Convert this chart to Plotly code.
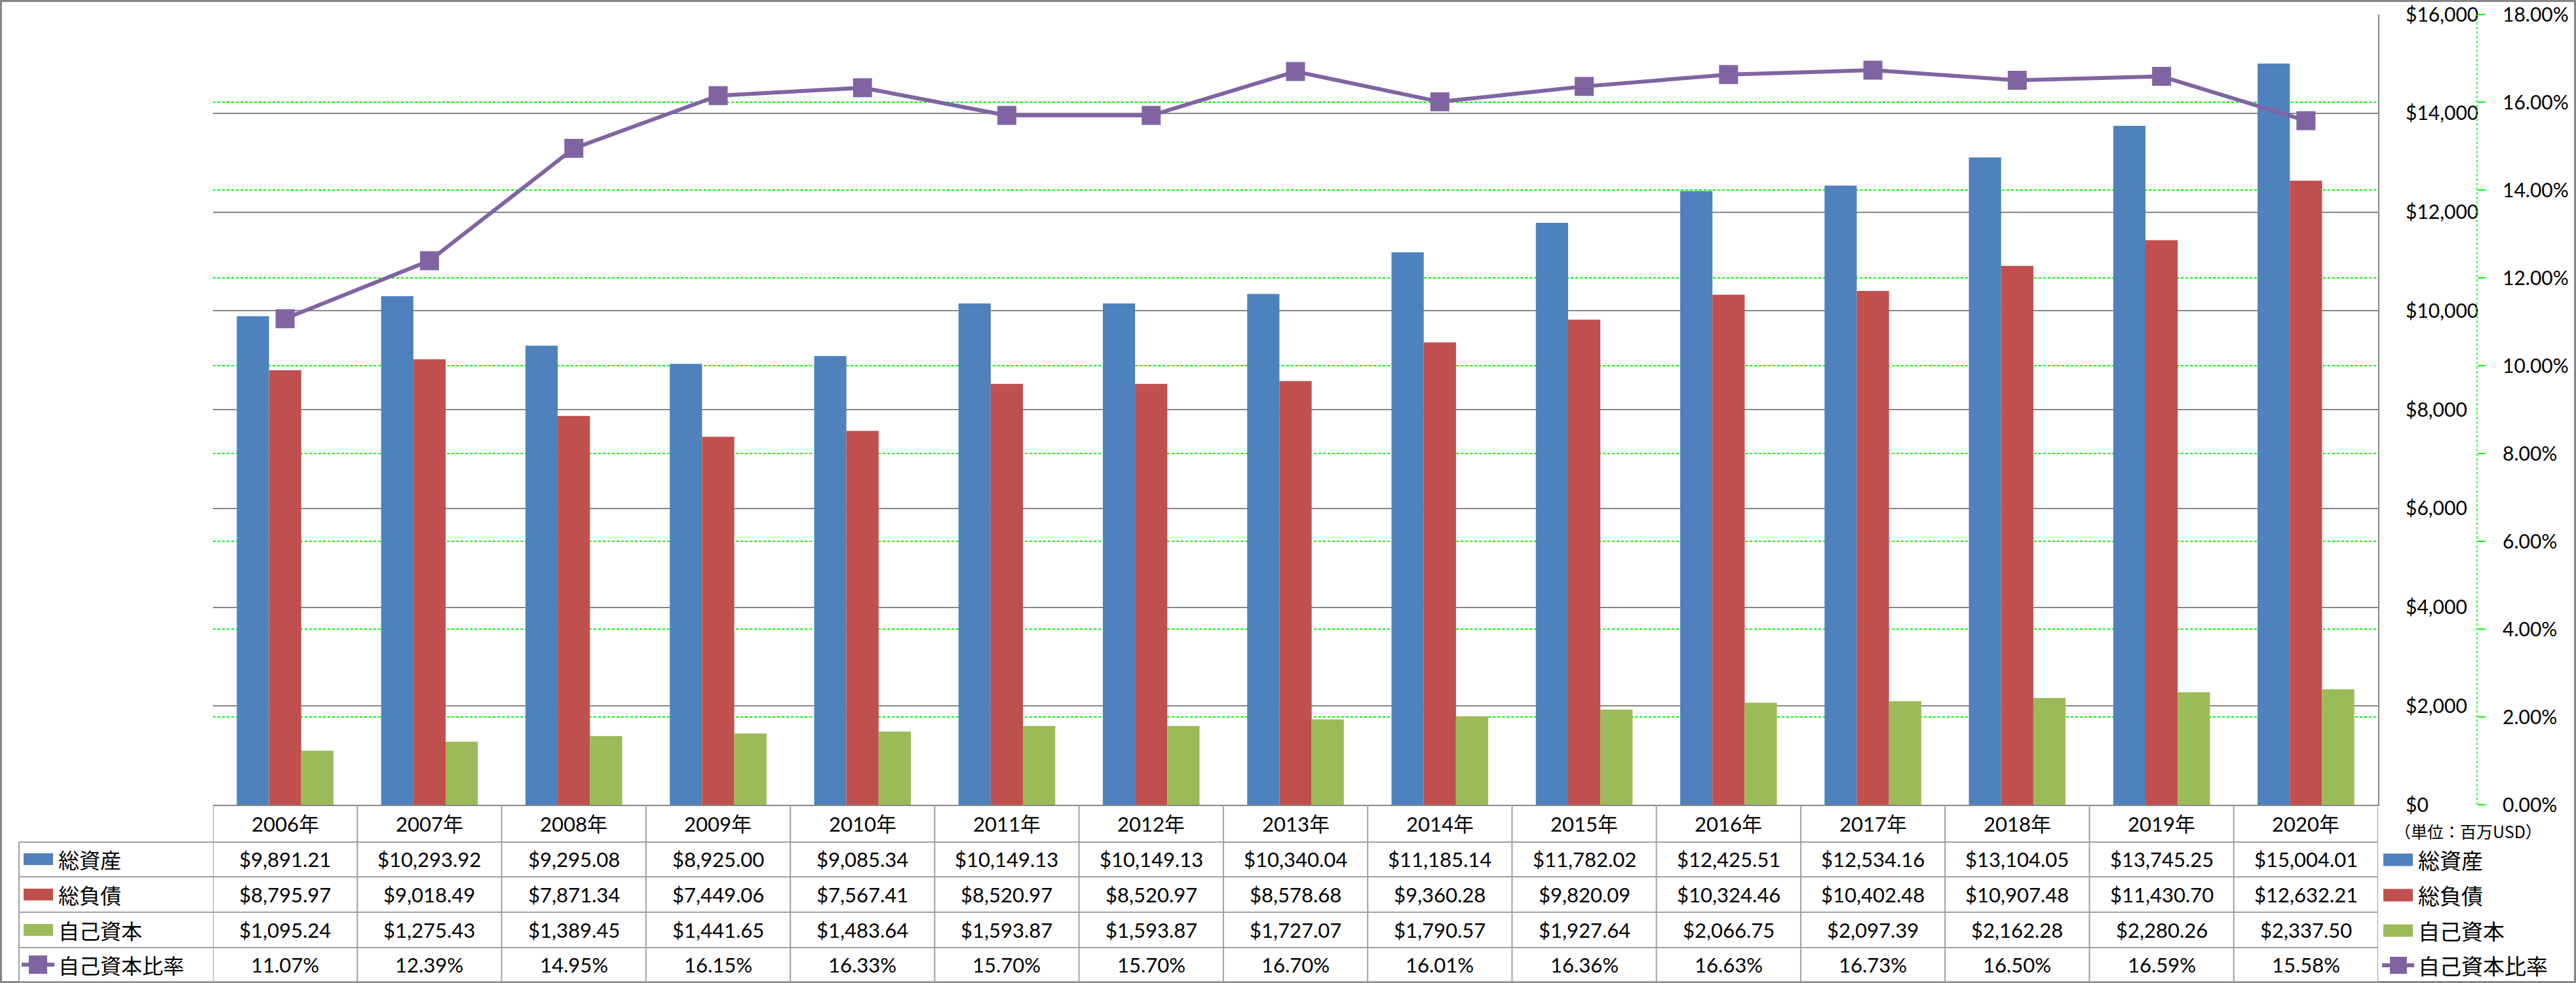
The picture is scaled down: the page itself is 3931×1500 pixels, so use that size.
import plotly.graph_objects as go

# ---------------- data ----------------
years = ["2006年", "2007年", "2008年", "2009年", "2010年", "2011年", "2012年", "2013年",
         "2014年", "2015年", "2016年", "2017年", "2018年", "2019年", "2020年"]
total_assets = [9891.21, 10293.92, 9295.08, 8925.00, 9085.34, 10149.13, 10149.13, 10340.04,
                11185.14, 11782.02, 12425.51, 12534.16, 13104.05, 13745.25, 15004.01]
total_liabilities = [8795.97, 9018.49, 7871.34, 7449.06, 7567.41, 8520.97, 8520.97, 8578.68,
                     9360.28, 9820.09, 10324.46, 10402.48, 10907.48, 11430.70, 12632.21]
equity = [1095.24, 1275.43, 1389.45, 1441.65, 1483.64, 1593.87, 1593.87, 1727.07,
          1790.57, 1927.64, 2066.75, 2097.39, 2162.28, 2280.26, 2337.50]
equity_ratio = [11.07, 12.39, 14.95, 16.15, 16.33, 15.70, 15.70, 16.70,
                16.01, 16.36, 16.63, 16.73, 16.50, 16.59, 15.58]
series_names = ["総資産", "総負債", "自己資本", "自己資本比率"]
y_ticks = list(range(0, 16001, 2000))
y2_ticks = list(range(0, 19, 2))
y2_ticktext = [f"{v:.2f}%" for v in y2_ticks]
unit_label = "（単位：百万USD）"

# ---------------- styles ----------------
W, H = 3931, 1500
PLOT_L, PLOT_R, PLOT_T, PLOT_B = 325, 3629, 22, 1228
C_BLUE, C_RED, C_GREEN, C_PURPLE = "#4F81BD", "#C0504D", "#9BBB59", "#8064A2"
GRAY = "#868686"
TGRAY = "#A0A0A0"
NUM_FONT = "Lato, 'Noto Sans CJK JP', sans-serif"
JP_FONT = "'Noto Sans CJK JP', sans-serif"


def px(p):
    return p / W


def py(p):
    return (PLOT_B - p) / (PLOT_B - PLOT_T)


fig = go.Figure()
for name, vals, col in zip(series_names[:3], [total_assets, total_liabilities, equity],
                           [C_BLUE, C_RED, C_GREEN]):
    fig.add_trace(go.Bar(x=years, y=vals, name=name, marker=dict(color=col, line=dict(width=0)),
                         showlegend=False))
fig.add_trace(go.Scatter(x=years, y=equity_ratio, name=series_names[3], yaxis="y2",
                         mode="lines+markers", line=dict(color=C_PURPLE, width=6),
                         marker=dict(symbol="square", size=29, color=C_PURPLE), showlegend=False))

shapes = []
annotations = []

# outer border
shapes.append(dict(type="rect", xref="paper", yref="paper", x0=px(1.5), x1=px(3929.5),
                   y0=py(1498.5), y1=py(1.5), line=dict(color=GRAY, width=3)))

# secondary axis dashed line
shapes.append(dict(type="line", xref="paper", yref="paper", x0=px(3780), x1=px(3780),
                   y0=0, y1=1, line=dict(color="#00FF00", width=1.5, dash="4px,3px")))

# table geometry
row_lines = [1285, 1338, 1392, 1446, 1498]
row_centers = [1311, 1365, 1419, 1472]
header_center = 1257

for yl in row_lines:
    shapes.append(dict(type="line", xref="paper", yref="paper", x0=px(29), x1=px(PLOT_R),
                       y0=py(yl), y1=py(yl), line=dict(color=TGRAY, width=2)))
shapes.append(dict(type="line", xref="paper", yref="paper", x0=px(29), x1=px(29),
                   y0=py(1285), y1=py(1498), line=dict(color=TGRAY, width=2)))
for k in range(len(years) + 1):
    shapes.append(dict(type="line", xref="x", yref="paper", x0=k - 0.5, x1=k - 0.5,
                       y0=py(1228), y1=py(1498), line=dict(color=TGRAY, width=2)))

# header (category labels)
for yr in years:
    annotations.append(dict(xref="x", yref="paper", x=yr, y=py(header_center), text=yr,
                            showarrow=False, xanchor="center", yanchor="middle",
                            font=dict(family=NUM_FONT, size=31, color="black")))

# table values
rows = [[f"${v:,.2f}" for v in total_assets],
        [f"${v:,.2f}" for v in total_liabilities],
        [f"${v:,.2f}" for v in equity],
        [f"{v:.2f}%" for v in equity_ratio]]
for r, cy in zip(rows, row_centers):
    for yr, t in zip(years, r):
        annotations.append(dict(xref="x", yref="paper", x=yr, y=py(cy), text=t,
                                showarrow=False, xanchor="center", yanchor="middle",
                                font=dict(family=NUM_FONT, size=31, color="black")))

# legend keys in table and in right legend
legend_right_centers = [1312, 1366, 1420, 1473]
for i, (name, col) in enumerate(zip(series_names, [C_BLUE, C_RED, C_GREEN, C_PURPLE])):
    cy = row_centers[i]
    ry = legend_right_centers[i]
    if i < 3:
        shapes.append(dict(type="rect", xref="paper", yref="paper", x0=px(36), x1=px(81),
                           y0=py(cy + 9), y1=py(cy - 9), fillcolor=col, line=dict(width=0)))
        shapes.append(dict(type="rect", xref="paper", yref="paper", x0=px(3637), x1=px(3682),
                           y0=py(ry + 9.5), y1=py(ry - 9.5), fillcolor=col, line=dict(width=0)))
    else:
        shapes.append(dict(type="line", xref="paper", yref="paper", x0=px(33), x1=px(83),
                           y0=py(cy), y1=py(cy), line=dict(color=col, width=6)))
        shapes.append(dict(type="rect", xref="paper", yref="paper", x0=px(44), x1=px(72),
                           y0=py(cy + 14), y1=py(cy - 14), fillcolor=col, line=dict(width=0)))
        shapes.append(dict(type="line", xref="paper", yref="paper", x0=px(3635), x1=px(3684),
                           y0=py(ry), y1=py(ry), line=dict(color=col, width=6)))
        shapes.append(dict(type="rect", xref="paper", yref="paper", x0=px(3647), x1=px(3673),
                           y0=py(ry + 13), y1=py(ry - 13), fillcolor=col, line=dict(width=0)))
    annotations.append(dict(xref="paper", yref="paper", x=px(87), y=py(cy), text=name,
                            showarrow=False, xanchor="left", yanchor="middle",
                            font=dict(family=JP_FONT, size=32, color="black")))
    annotations.append(dict(xref="paper", yref="paper", x=px(3688), y=py(ry), text=name,
                            showarrow=False, xanchor="left", yanchor="middle",
                            font=dict(family=JP_FONT, size=33, color="black")))

annotations.append(dict(xref="paper", yref="paper", x=px(3652), y=py(1268), text=unit_label,
                        showarrow=False, xanchor="left", yanchor="middle",
                        font=dict(family=JP_FONT, size=25, color="black")))

fig.update_layout(
    width=W, height=H,
    margin=dict(l=0, r=0, t=PLOT_T, b=H - PLOT_B, pad=0),
    paper_bgcolor="white", plot_bgcolor="white",
    barmode="group", bargap=0.33, bargroupgap=0,
    xaxis=dict(domain=[px(PLOT_L), px(PLOT_R)], type="category", range=[-0.5, len(years) - 0.5],
               showline=True, linecolor=GRAY, linewidth=2, showticklabels=False, ticks="",
               showgrid=False, zeroline=False, fixedrange=True),
    yaxis=dict(range=[0, 16000], side="right", anchor="x", tickvals=y_ticks, tickformat="$,",
               showline=True, linecolor=GRAY, linewidth=2, ticks="", ticklabelstandoff=34,
               showgrid=True, gridcolor=GRAY, gridwidth=1.5, zeroline=False,
               tickfont=dict(family=NUM_FONT, size=30, color="black")),
    yaxis2=dict(range=[0, 18], overlaying="y", side="right", anchor="free", position=px(3780),
                tickvals=y2_ticks, ticktext=y2_ticktext,
                ticks="outside", ticklen=12, tickcolor="#00FF00", tickwidth=1.5,
                ticklabelstandoff=20, showline=False,
                showgrid=True, gridcolor="#00FF00", gridwidth=1.5, griddash="4px,3px",
                zeroline=False, tickfont=dict(family=NUM_FONT, size=30, color="black")),
    shapes=shapes,
    annotations=annotations,
)

fig.write_html("out.html", config={"displayModeBar": False},
               post_script="document.body.style.margin='0';document.body.style.overflow='hidden';")
